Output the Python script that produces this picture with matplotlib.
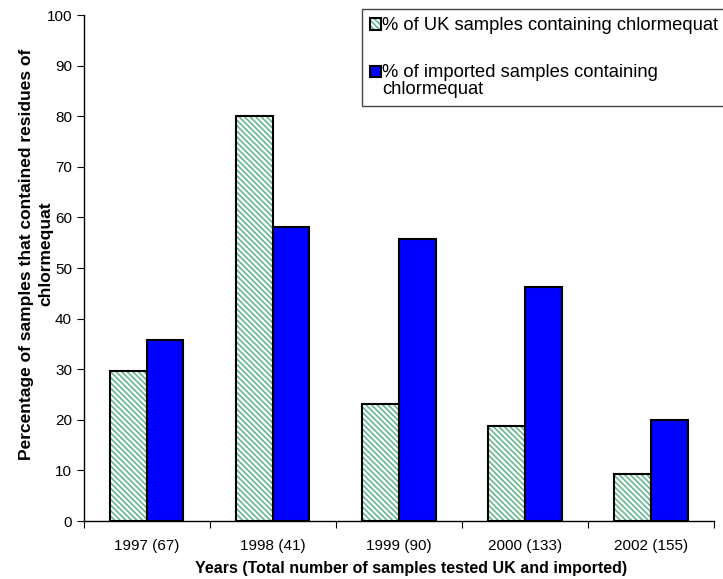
import matplotlib.pyplot as plt
from matplotlib.patches import Patch, Rectangle
from matplotlib.legend_handler import HandlerPatch
import numpy as np

plt.rcParams.update({
  'font.family'      : 'Liberation Sans',
  'font.size'        : 11,
  'figure.facecolor' : 'w',
  'figure.dpi'       : 100,
  'figure.figsize'   : (7.23, 5.79),
  'axes.linewidth'   : 1,
  'hatch.linewidth'  : 1.1,
  'xtick.direction'  : 'out',
  'ytick.direction'  : 'out',
  'xtick.major.size' : 5,
  'ytick.major.size' : 5,
})

years = ['1997 (67)', '1998 (41)', '1999 (90)', '2000 (133)', '2002 (155)']
uk_pct = [29.6, 80.0, 23.1, 18.8, 9.4]
imported_pct = [35.8, 58.2, 55.7, 46.3, 20.0]

labels = ['% of UK samples containing chlormequat',
          '% of imported samples containing\nchlormequat']

hatch_green = '#5ab488'
x = np.arange(len(years))
width = 0.29

fig, ax = plt.subplots()
plt.subplots_adjust(left=0.116, right=0.9876, top=0.974, bottom=0.100)

# hatched UK bars: green hatch first, black outline on top
ax.bar(x - width / 2, uk_pct, width, color='white', hatch='\\' * 6,
       edgecolor=hatch_green, linewidth=0, zorder=2)
ax.bar(x - width / 2, uk_pct, width, fill=False, edgecolor='black',
       linewidth=1.5, zorder=3)
ax.bar(x + width / 2, imported_pct, width, color='#0000ff',
       edgecolor='black', linewidth=1.5, zorder=3)

ax.set_xlim(-0.5, len(years) - 0.5)
ax.set_ylim(0, 100)
ax.set_yticks(range(0, 101, 10))

# category labels between boundary ticks
ax.set_xticks(np.arange(-0.5, len(years), 1.0))
ax.set_xticklabels([])
ax.set_xticks(x, minor=True)
ax.set_xticklabels(years, minor=True)
ax.tick_params(axis='x', which='minor', length=0, pad=13)

for side in ['top', 'right']:
    ax.spines[side].set_visible(False)

ax.set_xlabel('Years (Total number of samples tested UK and imported)',
              fontsize=11.5, weight='bold')
ax.xaxis.set_label_coords(0.519, -0.079)
ax.set_ylabel('Percentage of samples that contained residues of\nchlormequat',
              fontsize=12.5, weight='bold', linespacing=1.35)
ax.yaxis.set_label_coords(-0.048, 0.528)


# keep the square beside the first line of a two-line label
def top_square(legend, orig_handle, xdescent, ydescent, width, height, fontsize):
    shift = 0.5 * fontsize
    return Rectangle((-xdescent, -ydescent + shift), width, height)


h1 = Patch(facecolor='white', hatch='\\' * 6, edgecolor=hatch_green, linewidth=0)
h1b = Patch(fill=False, edgecolor='black', linewidth=1.5)
h2 = Patch(facecolor='#0000ff', edgecolor='black', linewidth=1.5)
leg = fig.legend([(h1, h1b), h2], labels, loc='upper left',
                 bbox_to_anchor=(362 / 723, 1 - 9 / 579),
                 handler_map={h2: HandlerPatch(patch_func=top_square)},
                 fontsize=13.2, frameon=True, fancybox=False, framealpha=1,
                 edgecolor='#444444', handlelength=0.6, handleheight=0.6,
                 handletextpad=0.05, labelspacing=1.6, borderpad=0.45,
                 borderaxespad=0)
leg.get_frame().set_linewidth(1)
for t in leg.get_texts():
    t.set_linespacing(1.0)

plt.savefig('out.png')
